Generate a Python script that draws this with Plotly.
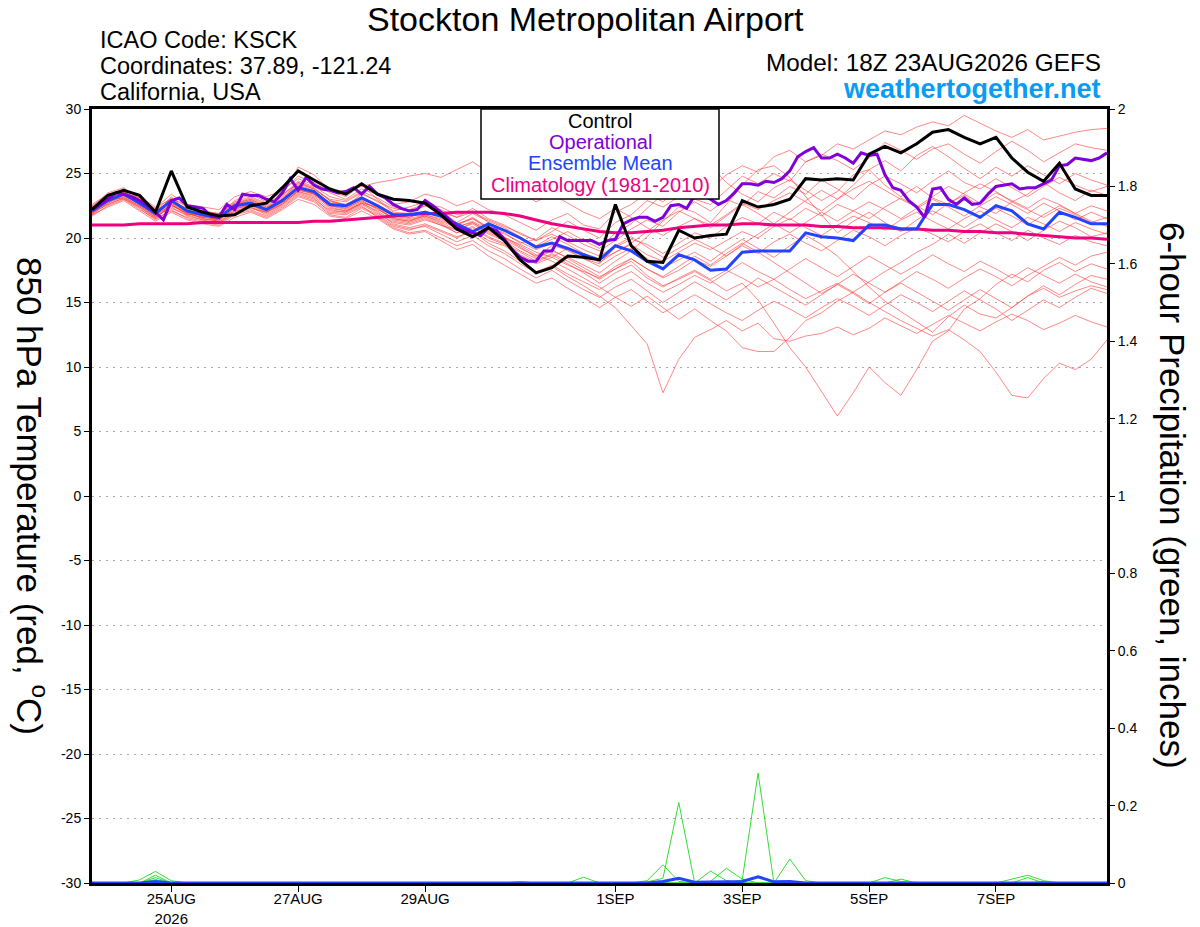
import pandas as pd
import plotly.graph_objects as go

# valid times: GEFS members / control / mean every 6 h, operational GFS every 3 h
times_6h = pd.date_range("2026-08-23 18:00", periods=65, freq="6h")
times_3h = pd.date_range("2026-08-23 18:00", periods=129, freq="3h")

tick_dates = ["2026-08-25", "2026-08-27", "2026-08-29", "2026-09-01",
              "2026-09-03", "2026-09-05", "2026-09-07"]
tick_labels = ["25AUG<br>2026", "27AUG", "29AUG", "1SEP", "3SEP", "5SEP", "7SEP"]

temp_ticks = [-30, -25, -20, -15, -10, -5, 0, 5, 10, 15, 20, 25, 30]
temp_tick_labels = ["-30", "-25", "-20", "-15", "-10", "-5", "0", "5", "10", "15", "20", "25", "30"]
prcp_ticks = [0, 0.2, 0.4, 0.6, 0.8, 1, 1.2, 1.4, 1.6, 1.8, 2]
prcp_tick_labels = ["0", "0.2", "0.4", "0.6", "0.8", "1", "1.2", "1.4", "1.6", "1.8", "2"]

# 850 hPa temperature (C)
control = [22.2, 23.3, 23.7, 23.3, 22.0, 25.2, 22.4, 22.0, 21.7, 21.8, 22.5, 22.7, 23.9,
           25.2, 24.5, 23.8, 23.4, 24.2, 23.4, 23.0, 22.9, 22.7, 21.8, 20.7, 20.1, 20.8,
           19.8, 18.3, 17.3, 17.7, 18.6, 18.5, 18.3, 22.6, 19.4, 18.2, 18.1, 20.6, 20.0,
           20.2, 20.3, 22.9, 22.4, 22.6, 23.0, 24.6, 24.5, 24.6, 24.5, 26.5, 27.1, 26.6,
           27.3, 28.2, 28.4, 27.8, 27.3, 27.8, 26.2, 25.1, 24.4, 25.8, 23.8, 23.3, 23.3]

ens_mean = [22.1, 22.9, 23.4, 22.7, 21.9, 22.9, 22.1, 21.8, 21.6, 22.5, 22.7, 22.2, 22.9,
            23.9, 23.6, 22.6, 22.5, 23.1, 22.5, 21.8, 21.8, 22.0, 21.7, 21.1, 20.5, 21.1,
            20.6, 20.0, 19.3, 19.6, 19.2, 18.7, 18.3, 19.4, 19.0, 18.2, 17.6, 18.7, 18.3,
            17.5, 17.6, 18.9, 19.0, 19.0, 19.0, 20.4, 20.1, 20.0, 19.8, 21.0, 21.0, 20.7,
            20.7, 22.6, 22.6, 22.2, 21.6, 22.5, 22.1, 21.1, 20.7, 22.0, 21.6, 21.1, 21.1]

climatology = [21.0, 21.0, 21.0, 21.1, 21.1, 21.1, 21.1, 21.2, 21.2, 21.2, 21.2, 21.2, 21.2,
               21.2, 21.3, 21.3, 21.4, 21.5, 21.6, 21.7, 21.8, 21.9, 21.9, 22.0, 22.0, 22.0,
               21.9, 21.7, 21.4, 21.1, 20.9, 20.7, 20.5, 20.4, 20.4, 20.5, 20.6, 20.8, 20.9,
               21.0, 21.0, 21.1, 21.1, 21.0, 21.0, 21.0, 20.9, 20.9, 20.8, 20.8, 20.8, 20.7,
               20.7, 20.6, 20.6, 20.5, 20.5, 20.4, 20.4, 20.3, 20.2, 20.1, 20.0, 20.0, 19.9]

operational = [22.2, 22.6, 23.0, 23.5, 23.4, 23.2, 22.9, 22.5, 22.0, 21.4, 22.9, 23.1, 22.5,
               22.4, 22.3, 21.7, 21.6, 22.6, 22.2, 23.4, 23.3, 23.3, 23.0, 22.8, 23.5, 24.6,
               23.7, 24.7, 24.1, 23.8, 23.7, 23.5, 23.6, 23.9, 23.4, 24.0, 23.4, 23.1, 22.6,
               22.3, 22.1, 22.2, 22.9, 22.5, 22.0, 21.5, 20.9, 20.6, 20.4, 20.2, 20.8, 20.6,
               19.9, 19.1, 18.5, 18.2, 18.2, 19.0, 19.0, 20.1, 19.8, 19.8, 19.8, 19.8, 19.5,
               19.8, 19.9, 21.1, 21.4, 21.6, 21.6, 21.3, 21.6, 22.5, 22.6, 22.3, 23.3, 23.4,
               23.0, 22.6, 22.9, 23.5, 24.2, 24.2, 24.1, 24.4, 24.3, 24.6, 25.2, 26.3, 26.7,
               27.0, 26.2, 26.2, 26.5, 26.2, 25.8, 26.6, 26.4, 26.5, 24.9, 23.9, 23.7, 22.9,
               22.4, 21.6, 23.8, 23.9, 23.0, 22.6, 23.1, 22.6, 22.7, 23.4, 24.0, 24.1, 24.2,
               23.8, 23.9, 23.9, 24.2, 24.5, 25.6, 25.7, 26.2, 26.1, 26.0, 26.2, 26.6]

member_01 = [22.4, 23.5, 23.9, 23.0, 22.3, 23.4, 22.5, 22.0, 21.8, 22.9, 23.4, 22.8, 23.6,
             24.8, 24.3, 23.5, 23.0, 23.8, 23.4, 22.6, 22.8, 23.4, 23.1, 22.5, 22.9, 22.2,
             21.8, 21.2, 20.6, 21.4, 21.9, 21.0, 20.7, 22.0, 22.6, 23.5, 22.8, 23.9, 24.6,
             23.8, 24.9, 25.6, 25.1, 26.3, 26.8, 25.9, 26.4, 27.3, 26.9, 27.6, 28.3, 28.0,
             28.6, 29.0, 28.7, 29.5, 28.9, 28.3, 27.8, 28.4, 27.6, 27.9, 28.2, 28.4, 28.5]
member_02 = [21.9, 23.0, 23.6, 22.9, 21.7, 23.2, 22.0, 21.5, 21.3, 22.7, 23.0, 22.5, 23.3,
             25.5, 24.9, 23.7, 23.2, 24.1, 23.0, 22.1, 22.4, 22.8, 22.0, 21.6, 22.3, 21.5,
             21.0, 20.3, 19.8, 20.5, 21.3, 20.6, 20.0, 21.2, 21.8, 22.9, 22.4, 23.2, 23.0,
             22.6, 23.7, 24.8, 24.2, 25.0, 24.4, 25.9, 26.5, 26.0, 25.3, 26.2, 27.4, 26.8,
             26.1, 26.9, 27.3, 26.5, 25.8, 26.7, 27.5, 26.8, 25.9, 26.6, 27.3, 27.0, 26.8]
member_03 = [22.0, 23.2, 23.0, 22.4, 21.5, 22.6, 21.8, 21.9, 21.2, 22.1, 22.3, 22.0, 22.6,
             23.7, 23.5, 22.3, 22.1, 22.7, 22.4, 21.5, 21.3, 21.8, 21.5, 21.0, 21.6, 20.8,
             20.4, 19.6, 19.9, 20.8, 20.2, 19.5, 19.0, 19.8, 20.7, 21.4, 20.9, 22.0, 22.8,
             22.1, 23.0, 22.5, 23.6, 23.1, 24.0, 23.4, 24.5, 23.8, 23.0, 24.1, 24.8, 24.2,
             23.5, 24.4, 25.2, 24.3, 23.8, 24.6, 23.9, 23.2, 24.0, 24.7, 24.1, 23.6, 24.0]
member_04 = [22.3, 22.8, 23.4, 22.6, 22.0, 22.9, 22.3, 21.6, 21.9, 22.6, 22.9, 22.1, 23.0,
             24.3, 23.9, 22.9, 22.5, 23.4, 22.9, 22.0, 21.9, 22.5, 22.1, 21.2, 21.9, 21.3,
             20.8, 20.1, 19.3, 19.9, 20.5, 19.8, 19.2, 20.4, 21.1, 22.3, 23.4, 24.8, 25.5,
             25.6, 24.3, 23.4, 22.8, 23.9, 24.5, 23.7, 22.9, 23.6, 24.9, 25.3, 24.1, 23.2,
             24.0, 23.1, 22.6, 23.5, 24.2, 23.6, 22.8, 23.4, 24.3, 23.5, 22.9, 23.7, 23.3]
member_05 = [21.8, 22.7, 23.2, 22.5, 21.6, 22.4, 21.7, 21.4, 21.1, 21.9, 22.4, 21.8, 22.5,
             23.4, 23.0, 22.1, 22.0, 22.6, 21.9, 21.2, 21.0, 21.4, 21.0, 20.6, 21.2, 20.4,
             19.9, 19.2, 18.6, 19.4, 19.1, 18.4, 18.0, 19.3, 19.9, 19.5, 18.8, 19.6, 20.4,
             20.0, 20.9, 21.6, 21.1, 22.0, 21.4, 22.3, 21.7, 22.6, 22.1, 21.5, 22.4, 23.1,
             22.5, 21.8, 22.7, 23.3, 22.4, 21.9, 22.8, 22.2, 21.6, 22.3, 21.8, 21.2, 21.6]
member_06 = [22.2, 22.9, 23.3, 22.8, 21.9, 22.7, 22.0, 21.7, 21.5, 22.3, 22.5, 22.2, 22.8,
             23.8, 23.4, 22.6, 22.3, 22.9, 22.2, 21.6, 21.4, 21.7, 21.3, 20.8, 21.3, 20.6,
             20.0, 19.5, 18.9, 18.5, 19.2, 18.8, 18.3, 18.9, 19.5, 18.7, 18.2, 18.9, 19.6,
             19.1, 19.8, 20.5, 20.0, 20.9, 21.5, 20.8, 20.2, 21.0, 21.7, 21.2, 20.6, 21.4,
             22.0, 21.3, 20.7, 21.5, 22.1, 21.4, 20.8, 21.6, 21.1, 20.5, 21.2, 20.7, 20.3]
member_07 = [22.0, 22.6, 23.1, 22.3, 21.4, 22.2, 21.5, 21.2, 21.0, 21.8, 22.1, 21.6, 22.3,
             23.2, 22.8, 21.8, 21.6, 22.3, 21.7, 20.9, 20.6, 21.0, 20.5, 20.0, 20.6, 19.8,
             19.4, 18.6, 18.0, 18.5, 17.9, 17.4, 16.9, 17.8, 18.4, 17.6, 16.9, 17.5, 18.3,
             17.8, 18.6, 19.4, 18.8, 19.7, 20.3, 19.6, 19.0, 19.8, 20.6, 20.1, 19.4, 20.2,
             20.8, 20.3, 19.7, 20.5, 21.1, 20.4, 19.8, 20.6, 20.0, 19.5, 20.2, 19.7, 19.4]
member_08 = [22.5, 23.3, 23.7, 23.2, 22.4, 23.0, 22.6, 22.4, 22.2, 23.2, 23.6, 23.2, 23.7,
             24.6, 24.1, 23.8, 23.6, 24.0, 24.3, 24.5, 24.8, 25.0, 24.7, 25.3, 25.9, 25.1,
             24.4, 23.6, 22.8, 23.4, 22.7, 22.0, 21.5, 22.3, 21.6, 20.8, 20.2, 20.9, 21.5,
             21.0, 21.8, 22.7, 22.2, 22.9, 23.5, 22.8, 22.1, 23.0, 23.8, 24.4, 23.7, 23.0,
             22.4, 23.2, 24.0, 23.4, 22.7, 23.5, 22.9, 22.3, 23.1, 22.6, 21.9, 22.5, 22.1]
member_09 = [21.7, 22.5, 23.0, 22.2, 21.5, 22.1, 21.6, 21.3, 21.2, 21.9, 22.2, 21.7, 22.4,
             23.3, 22.9, 21.9, 21.8, 22.4, 21.8, 21.0, 20.7, 20.9, 20.3, 19.7, 20.2, 19.4,
             18.8, 18.0, 17.3, 17.9, 17.2, 16.6, 16.0, 16.8, 17.4, 16.5, 15.8, 16.4, 17.1,
             16.5, 17.3, 18.1, 17.4, 16.8, 17.6, 18.4, 17.7, 17.0, 17.8, 18.6, 17.9, 17.2,
             17.9, 18.7, 18.0, 17.4, 18.2, 17.6, 16.9, 17.7, 17.1, 16.5, 17.2, 16.6, 16.2]
member_10 = [22.1, 22.8, 23.2, 22.4, 21.6, 22.5, 21.9, 21.5, 21.3, 22.0, 22.4, 21.9, 22.6,
             23.5, 23.1, 22.0, 21.9, 22.5, 21.6, 20.8, 20.4, 20.6, 20.0, 19.4, 19.8, 19.0,
             18.4, 17.6, 16.9, 17.5, 16.7, 16.0, 15.4, 16.2, 16.8, 15.9, 15.0, 15.8, 16.6,
             15.9, 15.2, 16.0, 16.9, 16.2, 15.5, 14.8, 15.6, 16.4, 15.7, 14.9, 15.8, 16.5,
             15.8, 15.1, 14.4, 15.2, 16.0, 15.3, 14.6, 15.5, 16.1, 15.4, 15.9, 16.3, 16.0]
member_11 = [21.9, 22.6, 23.1, 22.5, 21.7, 22.3, 21.8, 21.4, 21.4, 22.2, 22.6, 22.0, 22.7,
             23.6, 23.2, 22.2, 22.0, 22.7, 22.0, 21.1, 20.8, 21.1, 20.6, 20.1, 20.5, 19.6,
             19.0, 18.2, 17.4, 17.8, 17.0, 16.3, 15.5, 14.6, 13.2, 11.8, 8.0, 10.6, 12.3,
             12.9, 13.6, 12.8, 13.4, 12.2, 12.0, 12.4, 12.6, 13.1, 12.5, 13.0, 13.8, 13.2,
             12.6, 13.3, 14.0, 13.4, 12.8, 13.5, 14.1, 13.6, 12.9, 13.4, 14.0, 13.5, 13.1]
member_12 = [22.3, 23.1, 23.5, 22.9, 22.1, 22.8, 22.2, 21.8, 21.7, 22.4, 22.8, 22.3, 23.1,
             24.1, 23.7, 22.7, 22.4, 23.0, 22.5, 21.7, 21.5, 21.8, 21.4, 20.9, 21.2, 20.5,
             20.0, 19.3, 18.5, 19.1, 18.4, 17.7, 17.0, 17.6, 18.2, 17.1, 16.3, 16.8, 17.4,
             16.7, 15.9, 16.5, 15.2, 13.4, 11.5, 10.0, 8.1, 6.2, 8.0, 10.0, 8.8, 7.8,
             9.8, 12.0, 12.8, 14.5, 15.3, 16.4, 17.2, 16.6, 17.5, 18.1, 17.4, 18.0, 17.6]
member_13 = [22.0, 22.9, 23.3, 22.6, 21.8, 22.6, 21.9, 21.6, 21.5, 22.1, 22.5, 22.0, 22.7,
             23.6, 23.3, 22.4, 22.1, 22.7, 22.1, 21.3, 21.1, 21.5, 21.0, 20.4, 20.8, 20.0,
             19.5, 18.7, 18.1, 18.7, 18.0, 17.3, 16.5, 17.3, 17.9, 16.9, 16.2, 16.9, 17.5,
             16.8, 17.5, 16.9, 16.2, 16.8, 16.0, 15.3, 15.9, 16.5, 15.8, 15.0, 14.3, 13.6,
             13.0, 12.4, 12.9, 12.1, 11.2, 9.6, 7.8, 7.6, 9.1, 10.3, 9.8, 10.6, 12.1]
member_14 = [22.4, 23.0, 23.6, 22.7, 22.0, 22.9, 22.1, 21.9, 21.6, 22.5, 22.9, 22.4, 23.0,
             24.0, 23.5, 22.8, 22.6, 23.2, 22.6, 21.9, 21.6, 22.0, 21.7, 21.1, 21.5, 20.7,
             20.1, 19.4, 18.7, 18.2, 17.6, 16.9, 16.2, 15.4, 14.7, 15.5, 14.6, 13.7, 14.5,
             13.6, 12.8, 11.5, 11.2, 11.2, 12.3, 13.6, 14.2, 15.1, 15.8, 16.6, 17.4, 18.1,
             18.9, 19.5, 20.3, 19.6, 20.4, 21.1, 20.5, 19.8, 20.6, 21.3, 20.8, 20.1, 20.4]
member_15 = [22.2, 23.1, 23.8, 23.1, 22.2, 23.1, 22.4, 22.0, 21.9, 22.7, 23.1, 22.6, 23.4,
             24.2, 23.8, 23.0, 22.8, 23.5, 22.8, 22.3, 22.1, 22.5, 22.2, 21.6, 22.0, 21.4,
             20.9, 20.4, 19.8, 20.3, 19.7, 19.1, 18.6, 19.4, 20.1, 19.3, 18.5, 19.2, 19.9,
             19.3, 18.6, 19.5, 20.3, 21.1, 20.4, 21.2, 22.0, 21.3, 22.1, 22.8, 22.2, 21.5,
             22.3, 23.0, 22.4, 21.7, 22.5, 23.2, 22.6, 21.9, 22.7, 22.1, 21.4, 22.0, 21.5]
member_16 = [21.8, 22.4, 22.9, 22.1, 21.3, 22.0, 21.4, 21.1, 20.9, 21.6, 22.0, 21.5, 22.2,
             23.0, 22.6, 21.7, 21.5, 22.1, 21.5, 20.7, 20.3, 20.5, 19.8, 19.1, 19.5, 18.6,
             17.9, 17.2, 16.5, 16.9, 16.1, 15.4, 14.6, 15.4, 16.0, 15.1, 14.2, 14.9, 15.6,
             14.9, 14.2, 13.6, 14.4, 15.1, 14.5, 13.8, 14.6, 15.3, 14.7, 14.0, 14.8, 15.6,
             15.0, 14.3, 15.1, 15.9, 15.2, 14.5, 13.6, 14.4, 15.2, 14.6, 15.4, 16.1, 15.7]
member_17 = [22.6, 23.4, 23.5, 23.1, 22.2, 22.8, 22.3, 22.1, 21.9, 22.8, 23.2, 22.7, 23.3,
             24.4, 24.0, 23.2, 22.9, 23.6, 23.1, 22.4, 22.2, 22.6, 22.4, 21.8, 22.1, 21.2,
             20.6, 20.0, 19.4, 20.1, 19.5, 18.8, 18.1, 18.9, 19.6, 20.5, 21.4, 22.1, 21.5,
             20.8, 21.7, 22.6, 21.9, 21.1, 22.0, 22.9, 23.7, 23.0, 24.1, 25.3, 26.0, 25.2,
             26.4, 27.1, 26.3, 25.4, 24.6, 25.5, 24.8, 25.6, 24.9, 24.2, 25.0, 24.5, 24.1]
member_18 = [22.1, 22.7, 23.4, 22.8, 21.8, 22.5, 22.0, 21.7, 21.4, 22.4, 22.7, 22.1, 22.8,
             23.9, 23.4, 22.5, 22.2, 22.8, 22.3, 21.4, 21.2, 21.6, 21.1, 20.4, 20.9, 20.1,
             19.6, 18.9, 18.2, 18.8, 18.2, 17.5, 16.8, 17.6, 18.4, 17.6, 17.0, 17.8, 18.6,
             17.9, 18.8, 19.6, 18.9, 18.1, 17.3, 16.5, 15.7, 16.4, 17.2, 16.5, 15.8, 16.6,
             17.4, 16.8, 16.1, 16.9, 17.6, 17.0, 16.3, 17.1, 17.8, 18.5, 17.9, 18.6, 18.9]
member_19 = [21.9, 22.8, 23.4, 22.6, 21.7, 22.6, 21.9, 21.6, 21.4, 22.3, 22.6, 22.1, 22.8,
             23.7, 23.4, 22.5, 22.3, 22.9, 22.3, 21.5, 21.3, 21.7, 21.2, 20.6, 21.1, 20.3,
             19.8, 19.0, 18.4, 19.0, 18.5, 17.9, 17.3, 18.2, 19.0, 20.1, 21.3, 22.4, 22.0,
             21.2, 22.6, 24.1, 25.3, 25.6, 24.7, 23.2, 21.8, 20.4, 21.3, 22.0, 21.2, 20.5,
             21.4, 22.1, 21.5, 20.8, 21.6, 22.3, 21.7, 21.0, 21.8, 22.5, 21.9, 21.3, 20.9]
member_20 = [22.2, 23.0, 23.5, 22.8, 22.0, 22.7, 22.1, 21.8, 21.6, 22.6, 23.0, 22.4, 23.2,
             24.3, 23.8, 22.9, 22.6, 23.1, 22.4, 21.7, 21.6, 22.1, 21.6, 21.0, 21.5, 20.8,
             20.3, 19.7, 19.1, 19.6, 19.0, 18.4, 17.8, 18.6, 19.2, 18.4, 17.7, 18.3, 18.9,
             18.2, 19.1, 19.9, 19.2, 18.5, 19.4, 20.2, 19.5, 18.6, 17.4, 16.2, 15.1, 14.3,
             13.5, 12.7, 13.9, 14.8, 14.1, 13.8, 14.6, 15.5, 16.3, 15.6, 16.4, 17.1, 16.8]

members = [member_01, member_02, member_03, member_04, member_05, member_06, member_07,
           member_08, member_09, member_10, member_11, member_12, member_13, member_14,
           member_15, member_16, member_17, member_18, member_19, member_20]

# 6-hour precipitation (inches), members that produced any rain
prcp_a = [0, 0, 0, 0.008, 0.03, 0.006, 0, 0, 0, 0, 0, 0, 0,
          0, 0, 0, 0, 0, 0, 0, 0, 0, 0, 0, 0, 0,
          0, 0, 0, 0, 0, 0, 0, 0, 0, 0.003, 0.012, 0.208, 0,
          0, 0, 0, 0, 0, 0, 0, 0, 0, 0, 0, 0, 0,
          0, 0, 0, 0, 0, 0, 0, 0, 0, 0, 0, 0, 0]
prcp_b = [0, 0, 0, 0, 0.02, 0, 0, 0, 0, 0, 0, 0, 0,
          0, 0, 0, 0, 0, 0, 0, 0, 0, 0, 0, 0, 0,
          0, 0, 0, 0, 0, 0, 0, 0, 0, 0, 0, 0, 0,
          0, 0, 0.008, 0.284, 0, 0.062, 0.006, 0, 0, 0, 0, 0, 0,
          0, 0, 0, 0, 0, 0, 0.01, 0.02, 0.006, 0, 0, 0, 0]
prcp_c = [0, 0, 0, 0, 0.014, 0, 0, 0, 0, 0, 0, 0, 0,
          0, 0, 0, 0, 0, 0, 0, 0, 0, 0, 0, 0, 0,
          0, 0, 0, 0, 0, 0.015, 0, 0, 0, 0.006, 0.047, 0.004, 0,
          0, 0, 0, 0, 0, 0, 0, 0, 0, 0, 0, 0.014, 0.004,
          0, 0, 0, 0, 0, 0, 0, 0, 0, 0, 0, 0, 0]
prcp_d = [0, 0, 0, 0, 0.009, 0, 0, 0, 0, 0, 0, 0, 0,
          0, 0, 0, 0, 0, 0, 0, 0, 0, 0, 0, 0, 0,
          0, 0.004, 0, 0, 0, 0, 0, 0, 0, 0, 0, 0, 0,
          0.031, 0.006, 0, 0, 0, 0, 0, 0, 0, 0, 0, 0, 0.01,
          0, 0, 0, 0, 0, 0, 0, 0.014, 0, 0, 0, 0, 0]
prcp_e = [0, 0, 0, 0, 0, 0, 0, 0, 0, 0, 0, 0, 0,
          0, 0, 0, 0, 0, 0, 0, 0, 0, 0, 0, 0, 0,
          0, 0, 0, 0, 0, 0, 0, 0, 0, 0, 0, 0, 0.003,
          0.004, 0.038, 0.01, 0, 0, 0, 0, 0, 0, 0, 0, 0, 0,
          0, 0, 0, 0, 0, 0, 0, 0, 0.004, 0, 0, 0, 0]
prcp_members = [prcp_a, prcp_b, prcp_c, prcp_d, prcp_e]

prcp_mean = [0, 0, 0, 0, 0.004, 0, 0, 0, 0, 0, 0, 0, 0,
             0, 0, 0, 0, 0, 0, 0, 0, 0, 0, 0, 0, 0,
             0, 0, 0, 0, 0, 0, 0, 0, 0, 0, 0.004, 0.012, 0.002,
             0.003, 0.004, 0.004, 0.016, 0.003, 0.004, 0, 0, 0, 0, 0, 0, 0,
             0, 0, 0, 0, 0, 0, 0, 0, 0, 0, 0, 0, 0]

FONT = "Liberation Sans, Arial, Helvetica, sans-serif"
RED = "rgba(255,55,55,0.75)"
GREEN = "#33dd33"
PURPLE = "#7f00d9"
BLUE = "#2244ff"
PINK = "#ee007f"

# plot box in page pixels; the page body adds an 8 px margin around the figure
BODY = 8
PL, PR, PT, PB = 92, 1107, 109, 883
FIG_W, FIG_H = 1200 - BODY, 927 - BODY


def px_x(x):
    return (x - PL) / (PR - PL)


def px_y(y):
    return (PB - y) / (PB - PT)


fig = go.Figure()

for m in members:
    fig.add_trace(go.Scatter(x=times_6h, y=m, mode="lines",
                             line=dict(color=RED, width=0.8), hoverinfo="skip"))

for p in prcp_members:
    fig.add_trace(go.Scatter(x=times_6h, y=p, mode="lines", yaxis="y2",
                             line=dict(color=GREEN, width=1), hoverinfo="skip"))
fig.add_trace(go.Scatter(x=times_6h, y=prcp_mean, mode="lines", yaxis="y2",
                         line=dict(color=BLUE, width=3), hoverinfo="skip"))

fig.add_trace(go.Scatter(x=times_6h, y=climatology, mode="lines",
                         line=dict(color=PINK, width=3), hoverinfo="skip"))
fig.add_trace(go.Scatter(x=times_6h, y=ens_mean, mode="lines",
                         line=dict(color=BLUE, width=3), hoverinfo="skip"))
fig.add_trace(go.Scatter(x=times_3h, y=operational, mode="lines",
                         line=dict(color=PURPLE, width=3), hoverinfo="skip"))
fig.add_trace(go.Scatter(x=times_6h, y=control, mode="lines",
                         line=dict(color="black", width=3), hoverinfo="skip"))

# legend box drawn over the lines
fig.add_shape(type="rect", xref="paper", yref="paper",
              x0=px_x(481), x1=px_x(719), y0=px_y(199), y1=px_y(109),
              fillcolor="white", line=dict(color="black", width=1.5), layer="above")

legend_items = [("Control", "black", 121), ("Operational", PURPLE, 142),
                ("Ensemble Mean", BLUE, 163), ("Climatology (1981-2010)", PINK, 185)]
for text, color, y in legend_items:
    fig.add_annotation(text=text, xref="paper", yref="paper", x=px_x(600), y=px_y(y),
                       xanchor="center", yanchor="middle", showarrow=False,
                       font=dict(size=20, color=color, family=FONT))

header = [
    ("Stockton Metropolitan Airport", 585, 19, "center", 34, "black", False),
    ("ICAO Code: KSCK", 98, 40, "left", 23.5, "black", False),
    ("Coordinates: 37.89, -121.24", 98, 66, "left", 23.5, "black", False),
    ("California, USA", 98, 92, "left", 23.5, "black", False),
    ("Model: 18Z 23AUG2026 GEFS", 1103, 63, "right", 24.3, "black", False),
    ("weathertogether.net", 1103, 89, "right", 27, "#0a9cf5", True),
]
for text, x, y, anchor, size, color, bold in header:
    fig.add_annotation(text=f"<b>{text}</b>" if bold else text, xref="paper", yref="paper",
                       x=px_x(x), y=px_y(y), xanchor=anchor, yanchor="middle",
                       showarrow=False, font=dict(size=size, color=color, family=FONT))

# axis titles, both rotated clockwise
fig.add_annotation(text="850 hPa Temperature (red, <sup>o</sup>C)", xref="paper", yref="paper",
                   x=px_x(32), y=px_y(496), textangle=90, showarrow=False,
                   xanchor="center", yanchor="middle", font=dict(size=35, family=FONT))
fig.add_annotation(text="6-hour Precipitation (green, inches)", xref="paper", yref="paper",
                   x=px_x(1172), y=px_y(495), textangle=90, showarrow=False,
                   xanchor="center", yanchor="middle", font=dict(size=35, family=FONT))

fig.update_layout(
    width=FIG_W, height=FIG_H,
    margin=dict(l=PL - BODY, r=FIG_W + BODY - PR, t=PT - BODY, b=FIG_H + BODY - PB, pad=0),
    paper_bgcolor="white", plot_bgcolor="white",
    showlegend=False,
    font=dict(family=FONT, color="black"),
    xaxis=dict(
        range=[times_6h[0], times_6h[-1]],
        tickvals=tick_dates, ticktext=tick_labels,
        ticks="outside", ticklen=6, tickcolor="black",
        tickfont=dict(size=15), automargin=False, ticklabelstandoff=-6,
        showgrid=False, zeroline=False,
        showline=True, linecolor="black", linewidth=3, mirror=True,
    ),
    yaxis=dict(
        range=[-30, 30], tickvals=temp_ticks, ticktext=temp_tick_labels,
        ticks="outside", ticklen=5, tickcolor="black",
        tickfont=dict(size=14), automargin=False,
        showgrid=True, gridcolor="#aaaaaa", gridwidth=1, griddash="2px,5px",
        zeroline=False,
        showline=True, linecolor="black", linewidth=3,
    ),
    yaxis2=dict(
        range=[0, 2], overlaying="y", side="right",
        tickvals=prcp_ticks, ticktext=prcp_tick_labels,
        ticks="outside", ticklen=5, tickcolor="black",
        tickfont=dict(size=14), automargin=False,
        showgrid=False, zeroline=False,
        showline=True, linecolor="black", linewidth=3,
    ),
)

fig.write_html("out.html")
